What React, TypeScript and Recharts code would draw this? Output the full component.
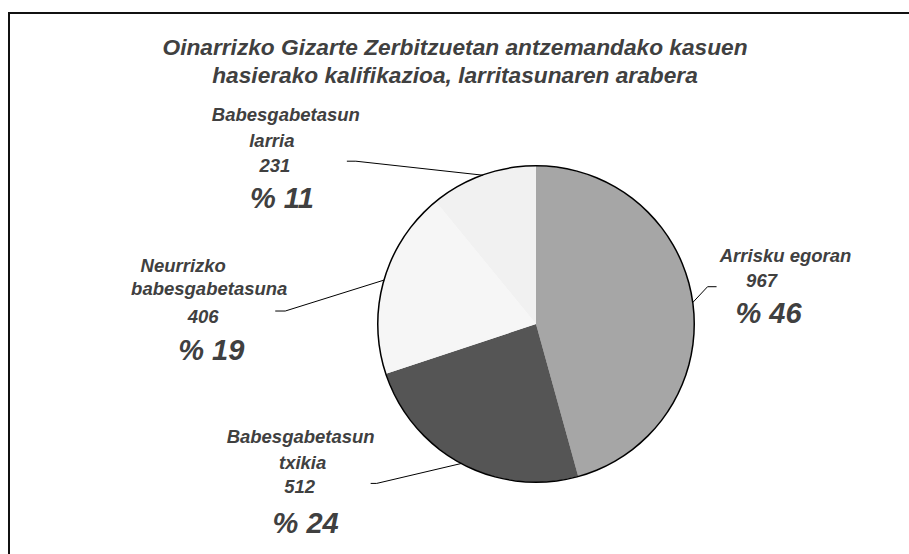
import React from 'react';
import { PieChart, Pie, Cell } from 'recharts';

const CATEGORIES = ['Arrisku egoran', 'Babesgabetasun txikia', 'Neurrizko babesgabetasuna', 'Babesgabetasun larria'];
const LABEL_LINES = [['Arrisku egoran'], ['Babesgabetasun', 'txikia'], ['Neurrizko', 'babesgabetasuna'], ['Babesgabetasun', 'larria']];
const VALUES = [967, 512, 406, 231];
const TITLE = ['Oinarrizko Gizarte Zerbitzuetan antzemandako kasuen', 'hasierako kalifikazioa, larritasunaren arabera'];

const COLORS = ['#a6a6a6', '#555555', '#f6f6f6', '#f1f1f1'];
const TEXT = '#404040';
const FONT = '"Liberation Sans", Arial, sans-serif';

// leader elbow offset from the rim, tick direction, then text lines relative to the elbow
const LAYOUT = [
  { ex: 15, ey: -16, tick: 9, lines: [{ dx: 78, dy: -25 }, { dx: 54, dy: 0 }, { dx: 61, dy: 36 }] },
  { ex: -85, ey: 20, tick: -6, lines: [{ dx: -76, dy: -40 }, { dx: -74, dy: -14 }, { dx: -77, dy: 10 }, { dx: -71, dy: 50 }] },
  { ex: -99, ey: 31, tick: -10, lines: [{ dx: -102, dy: -39 }, { dx: -76, dy: -16 }, { dx: -82, dy: 12 }, { dx: -74, dy: 49 }] },
  { ex: -127, ey: -14, tick: -9, lines: [{ dx: -70, dy: -40 }, { dx: -84, dy: -14 }, { dx: -81, dy: 11 }, { dx: -74, dy: 47 }] },
];

const total = VALUES.reduce((a, b) => a + b, 0);
const data = CATEGORIES.map((name, i) => ({
  name,
  value: VALUES[i],
  pct: `% ${Math.round((VALUES[i] / total) * 100)}`,
}));

const RADIAN = Math.PI / 180;

const renderLabel = (props: any) => {
  const { cx, cy, midAngle, outerRadius, index } = props;
  const lay = LAYOUT[index];
  const x0 = cx + outerRadius * Math.cos(-midAngle * RADIAN);
  const y0 = cy + outerRadius * Math.sin(-midAngle * RADIAN);
  const x1 = x0 + lay.ex;
  const y1 = y0 + lay.ey;
  const texts = [...LABEL_LINES[index], String(VALUES[index]), data[index].pct];
  return (
    <g>
      <polyline points={`${x0},${y0} ${x1},${y1} ${x1 + lay.tick},${y1}`} fill="none" stroke="#000" strokeWidth={1} />
      {texts.map((t, i) => {
        const isPct = i === texts.length - 1;
        return (
          <text
            key={i}
            x={x1 + lay.lines[i].dx}
            y={y1 + lay.lines[i].dy}
            textAnchor="middle"
            fill={TEXT}
            fontFamily={FONT}
            fontStyle="italic"
            fontWeight="bold"
            fontSize={isPct ? 29 : 18.5}
          >
            {t}
          </text>
        );
      })}
    </g>
  );
};

export default function App() {
  return (
    <div style={{ position: 'absolute', left: 0, top: 0, width: 909, height: 554, overflow: 'hidden', background: '#fff' }}>
      <div
        style={{
          position: 'absolute',
          left: 8,
          top: 12,
          width: 1000,
          height: 1000,
          borderLeft: '2px solid #111',
          borderTop: '2px solid #111',
        }}
      />
      <div
        style={{
          position: 'absolute',
          left: 0,
          top: 33,
          width: 910,
          textAlign: 'center',
          fontFamily: FONT,
          fontStyle: 'italic',
          fontWeight: 'bold',
          fontSize: 22.7,
          lineHeight: '28px',
          color: TEXT,
        }}
      >
        {TITLE.map((t) => (
          <div key={t}>{t}</div>
        ))}
      </div>
      <div style={{ position: 'absolute', left: 0, top: 0 }}>
        <PieChart width={909} height={554} margin={{ top: 0, right: 0, bottom: 0, left: 0 }}>
          <Pie
            data={data}
            dataKey="value"
            nameKey="name"
            cx={536}
            cy={324}
            outerRadius={158}
            startAngle={90}
            endAngle={-270}
            stroke="none"
            label={renderLabel}
            labelLine={false}
            isAnimationActive={false}
          >
            {data.map((_, i) => (
              <Cell key={i} fill={COLORS[i]} />
            ))}
          </Pie>
          <Pie
            data={[{ value: 1 }]}
            dataKey="value"
            cx={536}
            cy={324}
            innerRadius={157.5}
            outerRadius={159}
            startAngle={90}
            endAngle={-270}
            fill="#000"
            stroke="none"
            isAnimationActive={false}
          />
        </PieChart>
      </div>
    </div>
  );
}
